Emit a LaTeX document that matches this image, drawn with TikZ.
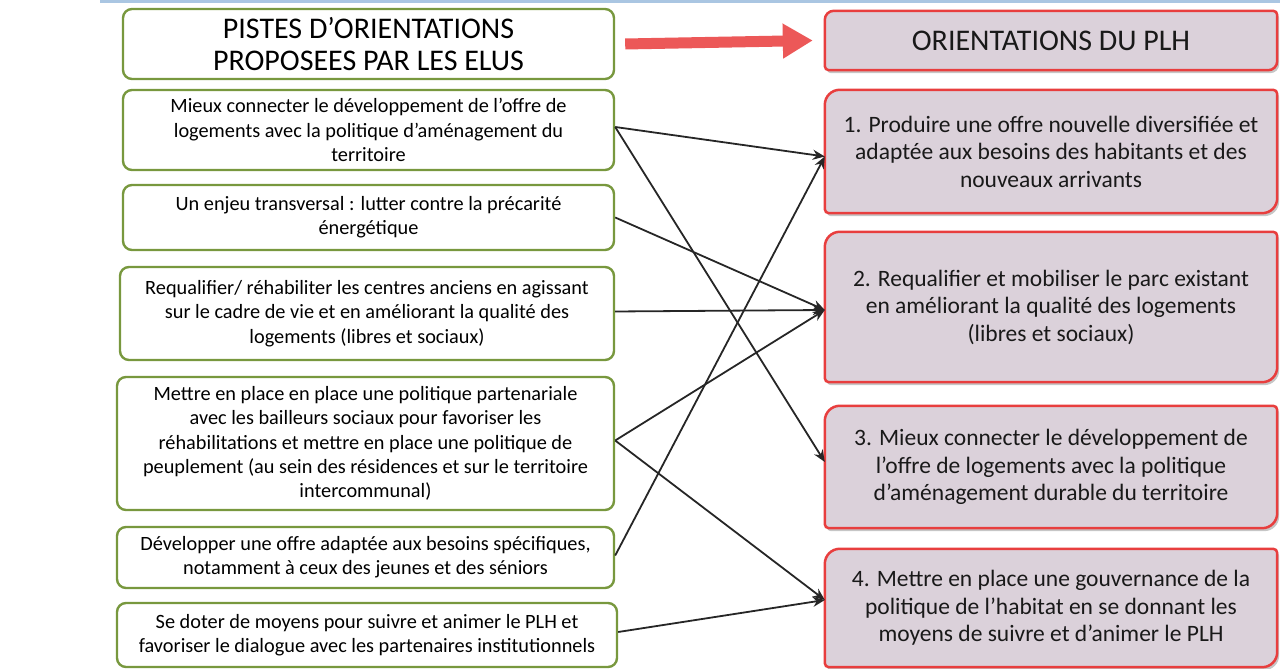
\documentclass[tikz,border=0pt]{standalone}
\usepackage{fontspec}
\setmainfont{Carlito}
\usepackage{xcolor}
\usepackage{tikz}
\usetikzlibrary{arrows.meta, positioning, shadows, backgrounds}
\definecolor{pistegreen}{RGB}{120, 152, 62}
\definecolor{plhred}{RGB}{232, 62, 62}
\definecolor{plhfill}{RGB}{219, 209, 218}
\definecolor{arrowred}{RGB}{236, 88, 88}
\definecolor{topblue}{RGB}{170, 198, 226}

\begin{document}
\begin{tikzpicture}[x=1pt, y=1pt,
    piste/.style={draw=pistegreen, line width=2.4pt, rounded corners=9pt, fill=white,
        align=center, inner sep=0pt, font=\fontsize{20.3}{24.3}\selectfont},
    orient/.style={align=center, inner sep=0pt, text=black!90,
        minimum width=452pt, font=\fontsize{23.5}{27.5}\selectfont},
    title/.style={font=\fontsize{30}{31.5}\selectfont},
    link/.style={-{Stealth[length=12pt, width=10pt]}, line width=1.8pt, black!85},
    bigarrow/.style={-{Triangle[length=30pt, width=33pt]}, line width=11pt, arrowred}]

    \useasboundingbox (0,0) rectangle (1280,669);
    \draw[topblue, line width=3pt] (100,667.5) -- (1280,667.5);

    % Pistes (left column)
    \node[piste, title, minimum width=491pt, minimum height=70pt]
        (l0) at (368.5,625) {PISTES D’ORIENTATIONS\\PROPOSEES PAR LES ELUS};
    \node[piste, minimum width=491pt, minimum height=80pt] (l1) at (368.5,539)
        {Mieux connecter le développement de l’offre de\\logements avec la politique d’aménagement du\\territoire};
    \node[piste, minimum width=491pt, minimum height=65pt] (l2) at (368.5,451.5)
        {Un enjeu transversal : lutter contre la précarité\\énergétique};
    \node[piste, minimum width=494pt, minimum height=93pt] (l3) at (367,355.5)
        {Requalifier/ réhabiliter les centres anciens en agissant\\sur le cadre de vie et en améliorant la qualité des\\logements (libres et sociaux)};
    \node[piste, minimum width=497pt, minimum height=133pt] (l4) at (365.5,225.5)
        {Mettre en place en place une politique partenariale\\avec les bailleurs sociaux pour favoriser les\\réhabilitations et mettre en place une politique de\\peuplement (au sein des résidences et sur le territoire\\intercommunal)};
    \node[piste, minimum width=497pt, minimum height=61pt] (l5) at (365.5,111.5)
        {Développer une offre adaptée aux besoins spécifiques,\\notamment à ceux des jeunes et des séniors};
    \node[piste, minimum width=500pt, minimum height=64pt] (l6) at (367,34)
        {Se doter de moyens pour suivre et animer le PLH et\\favoriser le dialogue avec les partenaires institutionnels};

    % Orientations (right column)
    \node[orient, title, minimum height=59pt] (r0) at (1051,628.5)
        {ORIENTATIONS DU PLH};
    \node[orient, minimum height=123pt] (r1) at (1051,517.5)
        {1. Produire une offre nouvelle diversifiée et\\adaptée aux besoins des habitants et des\\nouveaux arrivants};
    \node[orient, minimum height=150pt] (r2) at (1051,362)
        {2. Requalifier et mobiliser le parc existant\\en améliorant la qualité des logements\\(libres et sociaux)};
    \node[orient, minimum height=122pt] (r3) at (1051,202)
        {3. Mieux connecter le développement de\\l’offre de logements avec la politique\\d’aménagement durable du territoire};
    \node[orient, minimum height=118pt] (r4) at (1051,61)
        {4. Mettre en place une gouvernance de la\\politique de l’habitat en se donnant les\\moyens de suivre et d’animer le PLH};

    % Boxes behind the orientations
    \begin{scope}[on background layer]
    \foreach \n/\R in {r0/9, r1/15, r2/15, r3/15, r4/15} {
        \draw[plhred, line width=2.5pt, fill=plhfill,
              drop shadow={shadow xshift=2pt, shadow yshift=-3pt, opacity=0.45}]
            ([yshift=-\R pt]\n.north west) arc[start angle=180, end angle=90, radius=\R pt]
            -- ([xshift=-4pt]\n.north east) arc[start angle=90, end angle=0, radius=4pt]
            -- ([yshift=\R pt]\n.south east) arc[start angle=0, end angle=-90, radius=\R pt]
            -- ([xshift=4pt]\n.south west) arc[start angle=270, end angle=180, radius=4pt]
            -- cycle;
    }
    \end{scope}

    % Big arrow
    \draw[bigarrow] ([xshift=10pt]l0.east) -- ([xshift=-12pt]r0.west);

    % Links
    \draw[link] ([yshift=3pt]l1.east) -- ([yshift=-5pt]r1.west);
    \draw[link] ([yshift=3pt]l1.east) -- ([yshift=5pt]r3.west);
    \draw[link] (l2.east) -- ([yshift=-3pt]r2.west);
    \draw[link] ([yshift=2pt]l3.east) -- ([yshift=-3pt]r2.west);
    \draw[link] ([yshift=3pt]l4.east) -- ([yshift=-3pt]r2.west);
    \draw[link] ([yshift=3pt]l4.east) -- ([yshift=8pt]r4.west);
    \draw[link] ([yshift=2pt]l5.east) -- ([yshift=-5pt]r1.west);
    \draw[link] ([yshift=3pt]l6.east) -- ([yshift=8pt]r4.west);

\end{tikzpicture}
\end{document}
